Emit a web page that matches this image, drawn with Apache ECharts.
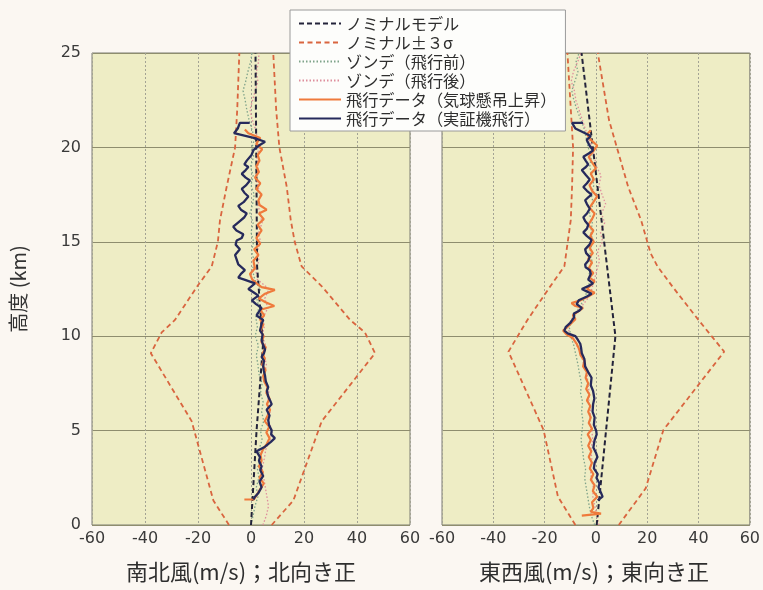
<!DOCTYPE html>
<html>
<head>
<meta charset="utf-8">
<script src="https://cdn.jsdelivr.net/npm/echarts/dist/echarts.min.js"></script>
<style>
  html, body { margin: 0; padding: 0; background: #fbf7f2; }
  #chart { width: 763px; height: 590px; }
</style>
</head>
<body>
<div id="chart"></div>
<script>
// ---- axis ticks ----
const windTicks = [-60, -40, -20, 0, 20, 40, 60];
const heightTicks = [0, 5, 10, 15, 20, 25];

// ---- legend names ----
const nameNominal = 'ノミナルモデル';
const nameSigma = 'ノミナル±３σ';
const nameSondeBefore = 'ゾンデ（飛行前）';
const nameSondeAfter = 'ゾンデ（飛行後）';
const nameBalloon = '飛行データ（気球懸吊上昇）';
const nameFlight = '飛行データ（実証機飛行）';

// ---- 南北風 (north-south wind), heights in km, wind in m/s ----
const nsNominalH = [0, 5, 9.5, 13.7, 25];
const nsNominalV = [0, 2.1, 4.5, 2.3, 1.7];

const nsSigmaH    = [0, 1.3, 5.5, 9.1, 10.2, 10.86, 12.6, 13.7, 15, 16.15, 17.9, 20, 22, 25];
const nsSigmaLow  = [-8.3, -14.2, -22.4, -37.8, -33.7, -28.7, -20.5, -14.8, -12.5, -11.7, -9.2, -6, -5.2, -4.4];
const nsSigmaHigh = [7.8, 16, 26.7, 46.8, 43, 37.4, 27, 19.1, 16.5, 15, 13.5, 10.7, 9.5, 8.4];

const sondeH = [0, 0.5, 1, 1.5, 2, 2.5, 3, 3.5, 4, 4.5, 5, 5.5, 6, 6.5, 7, 7.5, 8, 8.5, 9, 9.5,
  10, 10.5, 11, 11.5, 12, 12.5, 13, 13.5, 14, 14.5, 15, 15.5, 16, 16.5, 17, 17.5, 18, 18.5, 19, 19.5,
  20, 20.5, 21, 21.5, 22, 22.5, 23, 23.5, 24, 24.5, 25];
const nsSondeBefore = [0.0, 0.8, 1.5, 2.6, 2.0, 3.0, 2.4, 3.4, 3.0, 4.2, 3.6, 4.8, 4.0, 4.6, 3.6, 4.2, 3.0, 2.6, 2.0, 2.8,
  1.6, 2.4, 1.8, 3.0, 2.2, 3.6, 1.4, 0.6, 1.2, 0.2, 1.0, 0.0, 0.8, -0.4, 0.6, 1.2, 0.0, 0.8, -0.2, 1.0,
  0.4, 1.4, 0.2, -0.8, -1.6, -2.2, -3.0, -2.0, -1.2, -0.2, 0.4];
const nsSondeAfter = [4.5, 5.8, 6.6, 6.0, 5.4, 4.8, 4.2, 5.0, 5.6, 7.2, 8.0, 6.6, 7.2, 6.2, 6.8, 5.6, 5.2, 5.8, 5.0, 5.6,
  4.2, 5.0, 4.6, 6.4, 5.2, 6.8, 2.4, 1.8, 3.0, 2.4, 3.6, 2.8, 4.2, 3.4, 2.6, 3.6, 2.4, 1.8, 2.8, 2.0,
  3.2, 2.4, 1.6, 0.4, -0.4, 0.6, 1.6, 2.6, 2.0, 2.8, 3.0];

const nsBalloonH = [1.35, 1.35, 1.6, 1.9, 2.2, 2.5, 2.8, 3.1, 3.4, 3.7, 4.0, 4.3, 4.6, 4.9, 5.2, 5.5, 5.8, 6.1, 6.4, 6.7,
  7.0, 7.3, 7.6, 7.9, 8.2, 8.5, 8.8, 9.1, 9.4, 9.7, 10.0, 10.3, 10.6, 10.9, 11.1, 11.4, 11.6, 11.8, 12.0, 12.25,
  12.45, 12.6, 12.8, 13.0, 13.3, 13.6, 14.0, 14.3, 14.6, 14.9, 15.2, 15.6, 15.9, 16.2, 16.5, 16.7, 16.95, 17.2, 17.5, 17.8,
  18.1, 18.4, 18.7, 19.0, 19.3, 19.6, 19.9, 20.2, 20.5, 20.75, 20.95];
const nsBalloon = [-2.5, 1.0, 2.2, 3.5, 4.8, 3.2, 4.5, 3.0, 4.0, 3.6, 4.5, 6.0, 7.0, 5.8, 6.9, 5.2, 6.3, 7.2, 6.0, 7.0,
  5.8, 6.2, 5.0, 4.6, 5.5, 4.2, 5.2, 4.4, 5.6, 3.9, 4.8, 3.6, 4.6, 3.4, 5.0, 3.5, 8.8, 5.5, 3.0, 5.3,
  9.0, 4.0, 2.1, 0.5, -0.4, 1.5, 0.9, 2.8, 1.2, 3.5, 2.0, 4.0, 2.5, 4.8, 3.0, 5.9, 3.2, 2.8, 4.0, 2.0,
  3.5, 1.5, 3.0, 2.0, 3.2, 2.5, 4.2, 2.0, 3.5, -1.0, -2.3];

const nsFlightH = [1.35, 1.5, 1.7, 2.0, 2.3, 2.6, 2.9, 3.1, 3.4, 3.6, 3.9, 4.15, 4.4, 4.6, 4.8, 5.0, 5.3, 5.56, 5.8, 6.1,
  6.4, 6.6, 6.8, 7.1, 7.3, 7.6, 7.9, 8.2, 8.4, 8.7, 8.9, 9.1, 9.3, 9.6, 9.8, 10.1, 10.3, 10.65, 10.86, 11.1,
  11.3, 11.5, 11.7, 11.9, 12.15, 12.3, 12.5, 12.8, 13.0, 13.1, 13.3, 13.5, 13.8, 14.1, 14.3, 14.6, 14.85, 15.07, 15.2, 15.4,
  15.6, 15.8, 16.1, 16.3, 16.5, 16.7, 16.9, 17.1, 17.4, 17.6, 17.8, 18.0, 18.25, 18.4, 18.6, 18.8, 18.96, 19.1, 19.3, 19.6,
  19.85, 20.1, 20.3, 20.5, 20.75, 21.0, 21.3, 21.3];
const nsFlight = [0.9, 1.5, 2.8, 4.0, 3.2, 4.6, 3.5, 4.0, 3.0, 3.4, 2.1, 5.3, 7.5, 9.0, 7.6, 7.8, 6.8, 6.5, 7.0, 5.9,
  7.8, 7.2, 6.5, 6.0, 6.5, 5.6, 5.3, 4.8, 4.6, 4.9, 4.0, 4.9, 5.3, 4.4, 4.0, 4.4, 3.4, 4.0, 4.6, 2.1,
  3.0, 4.0, 1.9, 0.3, 2.8, 1.2, -1.0, 1.5, -2.5, -4.8, -3.8, -2.3, -4.8, -5.5, -6.0, -4.2, -5.8, -5.4, -3.5, -2.9,
  -5.5, -6.7, -4.2, -2.5, -1.6, -3.8, -4.8, -2.8, -1.0, -2.5, -3.5, -1.8, -0.4, -2.0, -3.5, -2.0, -1.0, -2.5, -1.6, 0.2,
  0.9, 3.0, 5.3, 1.0, -6.4, -5.0, -4.2, -0.5];

// ---- 東西風 (east-west wind) ----
const ewNominalH = [0, 10, 25];
const ewNominalV = [0.3, 7.6, -5.6];

const ewSigmaLowH = [0, 1.5, 5.03, 9.18, 10.86, 12.6, 13.7, 16.15, 17.9, 20, 25];
const ewSigmaLow  = [-8, -14.8, -20.4, -34.1, -26.7, -18, -12.3, -9.8, -9.3, -8.9, -11.1];
const ewSigmaHighH = [0, 1.94, 5.03, 9.18, 10.86, 11.9, 12.6, 13.7, 14.4, 16.15, 17.9, 19.7, 21.45, 25];
const ewSigmaHigh  = [8.9, 19.4, 26.3, 50, 40, 34, 30, 24, 21.3, 17.6, 12.6, 8.8, 5.1, 0.75];

const ewSondeBefore = [-0.5, -1.8, -2.6, -3.2, -3.8, -4.4, -4.0, -4.8, -5.2, -5.8, -5.4, -5.0, -5.6, -5.2, -6.0, -5.6, -6.4, -7.0, -7.8, -8.6,
  -9.8, -10.4, -8.6, -6.6, -4.4, -3.2, -2.2, -2.8, -1.6, -2.4, -1.2, -2.0, -1.4, -2.6, -1.0, -1.8, -0.8, -1.6, -2.4, -1.8,
  -3.0, -3.8, -4.6, -6.0, -7.4, -8.6, -9.4, -8.2, -7.0, -7.8, -6.6];
const ewSondeAfter = [1.2, 0.4, -0.4, -1.2, -1.0, -1.8, -2.2, -1.6, -2.0, -1.2, -1.6, -2.4, -2.0, -2.8, -2.6, -3.2, -3.4, -4.6, -5.8, -7.4,
  -9.6, -11.2, -9.0, -6.0, -3.2, -1.6, -0.6, 0.4, 1.4, 0.6, 2.6, 1.8, 3.4, 2.2, 3.8, 2.4, 1.2, 2.0, 0.2, -0.6,
  -1.4, -2.8, -4.2, -5.4, -6.6, -7.8, -8.4, -9.6, -8.8, -7.2, -5.8];

const ewBalloonH = [0.5, 0.6, 0.7, 0.9, 1.2, 1.5, 1.8, 2.1, 2.4, 2.7, 3.0, 3.3, 3.6, 3.9, 4.2, 4.5, 4.8, 5.1, 5.4, 5.7,
  6.0, 6.3, 6.6, 6.9, 7.2, 7.5, 7.8, 8.1, 8.4, 8.7, 9.0, 9.3, 9.6, 9.9, 10.1, 10.3, 10.5, 10.7, 10.9, 11.1,
  11.3, 11.5, 11.6, 11.75, 11.9, 12.1, 12.3, 12.5, 12.7, 12.9, 13.1, 13.35, 13.6, 13.9, 14.1, 14.4, 14.7, 15.0, 15.3, 15.6,
  15.9, 16.2, 16.5, 16.8, 17.1, 17.4, 17.7, 18.0, 18.3, 18.6, 18.9, 19.2, 19.5, 19.8, 20.1, 20.4, 20.7, 20.9];
const ewBalloon = [-5.5, 2.0, -2.0, -1.0, -1.5, 0.5, -1.2, -0.5, -2.0, -1.0, -2.4, -1.5, -2.8, -1.8, -3.0, -2.0, -3.2, -1.5, -2.8, -2.0,
  -3.0, -2.2, -3.5, -2.5, -3.8, -3.0, -4.0, -3.5, -5.0, -4.5, -6.0, -6.5, -7.5, -9.0, -11.5, -12.8, -11.0, -9.5, -8.0, -9.0,
  -7.0, -5.0, -8.0, -9.5, -6.0, -3.0, -0.5, -3.5, -2.0, -0.5, -2.5, -1.0, -2.8, -1.5, -3.0, -1.2, -2.5, -0.8, -2.2, -1.0,
  -3.0, -1.5, -0.5, -2.5, -1.0, 0.5, -1.5, -2.5, -0.8, -2.0, 0.0, -1.5, -2.8, -1.0, 0.5, -2.0, -3.5, -2.0];

const ewFlightH = [1.3, 1.5, 1.7, 2.0, 2.2, 2.5, 2.7, 3.0, 3.3, 3.6, 3.8, 4.1, 4.5, 4.8, 5.0, 5.3, 5.7, 6.0, 6.4, 6.7,
  7.1, 7.4, 7.8, 8.1, 8.4, 8.8, 9.1, 9.4, 9.6, 9.8, 10.0, 10.15, 10.3, 10.5, 10.7, 10.86, 11.0, 11.2, 11.35, 11.5,
  11.7, 11.9, 12.1, 12.25, 12.4, 12.5, 12.65, 12.8, 13.0, 13.1, 13.3, 13.5, 13.65, 13.8, 14.0, 14.2, 14.4, 14.6, 14.85, 15.1,
  15.3, 15.5, 15.7, 15.9, 16.1, 16.3, 16.5, 16.75, 17.0, 17.2, 17.35, 17.5, 17.7, 17.9, 18.1, 18.3, 18.55, 18.8, 18.95, 19.1,
  19.3, 19.5, 19.7, 19.85, 20.1, 20.4, 20.6, 20.8, 21.0, 21.3, 21.3];
const ewFlight = [0.7, 2.6, 2.0, 1.0, 1.4, 0.2, 0.7, -0.8, -0.5, 0.6, 0.1, -1.0, -0.5, 0.3, 0.1, -0.8, -0.5, -1.3, -1.1, -0.6,
  -1.1, -2.0, -1.7, -3.0, -4.2, -4.5, -5.5, -5.8, -6.1, -7.0, -8.0, -11.0, -12.3, -11.7, -10.0, -9.2, -8.5, -8.6, -6.5, -5.5,
  -7.5, -6.7, -3.5, -1.7, -4.0, -5.5, -3.0, -1.1, -3.0, -3.6, -2.0, -2.4, -4.0, -4.2, -3.0, -2.4, -3.8, -4.2, -2.5, -1.7,
  -3.5, -4.9, -3.5, -3.0, -4.2, -4.9, -3.5, -2.4, -3.5, -4.2, -3.0, -1.7, -3.5, -4.9, -3.5, -2.4, -4.0, -5.5, -4.0, -3.0,
  -4.0, -4.9, -2.5, -1.1, -2.5, -3.6, -2.0, -5.0, -8.0, -9.3, -5.0];

// ---- styles ----
const cNominal = '#23233a';
const cSigma = '#d9653f';
const cSondeBefore = '#7fa38a';
const cSondeAfter = '#de8e9c';
const cBalloon = '#ef7a3c';
const cFlight = '#262a5c';
const numFont = "'DejaVu Sans', sans-serif";
const jpFont = "'Noto Sans CJK JP', sans-serif";

function profile(h, v) {
  return h.map((y, i) => [v[i], y]);
}

function lineSeries(name, idx, h, v, color, type, width, z) {
  return {
    name: name,
    type: 'line',
    xAxisIndex: idx,
    yAxisIndex: idx,
    data: profile(h, v),
    showSymbol: false,
    symbol: 'none',
    silent: true,
    animation: false,
    z: z,
    lineStyle: { color: color, type: type, width: width },
    itemStyle: { color: color }
  };
}

function panelSeries(idx, d) {
  return [
    lineSeries(nameSondeBefore, idx, sondeH, d.sondeBefore, cSondeBefore, [1.5, 2], 1.3, 2),
    lineSeries(nameSondeAfter, idx, sondeH, d.sondeAfter, cSondeAfter, [1.5, 2], 1.3, 2),
    lineSeries(nameSigma, idx, d.lowH, d.low, cSigma, [5, 3.5], 1.8, 3),
    lineSeries(nameSigma, idx, d.highH, d.high, cSigma, [5, 3.5], 1.8, 3),
    lineSeries(nameNominal, idx, d.nomH, d.nom, cNominal, [5, 3], 2, 3),
    lineSeries(nameBalloon, idx, d.balloonH, d.balloon, cBalloon, 'solid', 2.2, 4),
    lineSeries(nameFlight, idx, d.flightH, d.flight, cFlight, 'solid', 2.3, 5)
  ];
}

const series = [].concat(
  panelSeries(0, {
    sondeBefore: nsSondeBefore, sondeAfter: nsSondeAfter,
    lowH: nsSigmaH, low: nsSigmaLow, highH: nsSigmaH, high: nsSigmaHigh,
    nomH: nsNominalH, nom: nsNominalV,
    balloonH: nsBalloonH, balloon: nsBalloon, flightH: nsFlightH, flight: nsFlight
  }),
  panelSeries(1, {
    sondeBefore: ewSondeBefore, sondeAfter: ewSondeAfter,
    lowH: ewSigmaLowH, low: ewSigmaLow, highH: ewSigmaHighH, high: ewSigmaHigh,
    nomH: ewNominalH, nom: ewNominalV,
    balloonH: ewBalloonH, balloon: ewBalloon, flightH: ewFlightH, flight: ewFlight
  })
);

function xAxis(idx) {
  return {
    type: 'value',
    gridIndex: idx,
    min: windTicks[0],
    max: windTicks[windTicks.length - 1],
    interval: windTicks[1] - windTicks[0],
    axisLine: { show: false },
    axisTick: { show: false },
    axisLabel: {
      show: true, margin: 6, color: '#3a3a3a', fontSize: 16, fontFamily: numFont,
      showMinLabel: true, showMaxLabel: true, hideOverlap: false
    },
    splitLine: { show: true, lineStyle: { color: '#a3a394', type: [2, 2], width: 1 } }
  };
}

function yAxis(idx) {
  return {
    type: 'value',
    gridIndex: idx,
    min: heightTicks[0],
    max: heightTicks[heightTicks.length - 1],
    interval: heightTicks[1] - heightTicks[0],
    axisLine: { show: false },
    axisTick: { show: false },
    axisLabel: {
      show: idx === 0, margin: 11, color: '#3a3a3a', fontSize: 16, fontFamily: numFont,
      showMinLabel: true, showMaxLabel: true
    },
    name: idx === 0 ? '高度 (km)' : '',
    nameLocation: 'middle',
    nameGap: 64,
    nameRotate: 90,
    nameTextStyle: { color: '#333', fontSize: 20, fontFamily: jpFont },
    splitLine: { show: true, lineStyle: { color: '#8e8d6e', width: 1 } }
  };
}

const chart = echarts.init(document.getElementById('chart'), null, { renderer: 'canvas' });
chart.setOption({
  backgroundColor: '#fbf7f2',
  animation: false,
  textStyle: { fontFamily: numFont },
  grid: [
    { left: 92, top: 53, width: 318, height: 472, show: true, backgroundColor: '#eeedc5', borderColor: '#7d7d72', borderWidth: 1 },
    { left: 442, top: 53, width: 321, height: 472, show: true, backgroundColor: '#eeedc5', borderColor: '#7d7d72', borderWidth: 1 }
  ],
  xAxis: [xAxis(0), xAxis(1)],
  yAxis: [yAxis(0), yAxis(1)],
  legend: {
    show: true,
    orient: 'vertical',
    left: 290,
    top: 10,
    padding: [5, 9, 4, 8],
    itemWidth: 42,
    itemHeight: 14,
    itemGap: 2,
    backgroundColor: '#fdfdfb',
    borderColor: '#9a9a9a',
    borderWidth: 1,
    selectedMode: false,
    itemStyle: { opacity: 0 },
    textStyle: { color: '#2e2e2e', fontSize: 16.2, lineHeight: 17, fontFamily: jpFont },
    data: [nameNominal, nameSigma, nameSondeBefore, nameSondeAfter, nameBalloon, nameFlight]
  },
  graphic: [
    { type: 'text', x: 241, y: 572, style: { text: '南北風(m/s)；北向き正', fill: '#2e2e2e', font: "22px 'Noto Sans CJK JP'", align: 'center', verticalAlign: 'middle', textAlign: 'center', textVerticalAlign: 'middle' } },
    { type: 'text', x: 594, y: 572, style: { text: '東西風(m/s)；東向き正', fill: '#2e2e2e', font: "22px 'Noto Sans CJK JP'", align: 'center', verticalAlign: 'middle', textAlign: 'center', textVerticalAlign: 'middle' } }
  ],
  series: series
});
</script>
</body>
</html>
